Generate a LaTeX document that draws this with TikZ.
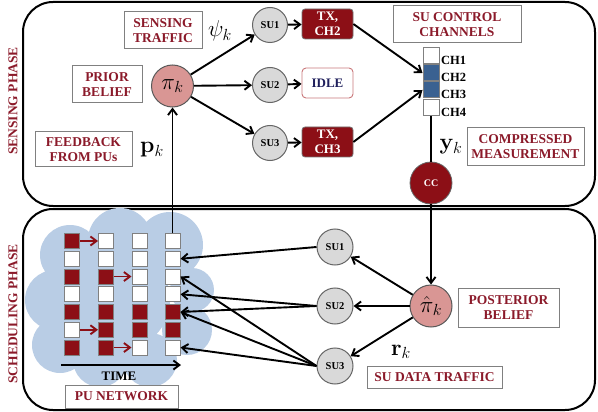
\documentclass[tikz,border=0pt]{standalone}
\usepackage{fix-cm}
\usepackage[no-math]{fontspec}
\setmainfont{Liberation Serif}
\usetikzlibrary{arrows.meta}
\definecolor{dred}{HTML}{8C0F16}
\definecolor{tred}{HTML}{8B1A2A}
\definecolor{rose}{HTML}{D99694}
\definecolor{sugray}{HTML}{D9D9D9}
\definecolor{bgray}{HTML}{808080}
\definecolor{chblue}{HTML}{3A6191}
\definecolor{cloudblue}{HTML}{B9CDE5}
\definecolor{navy}{HTML}{1F1F5C}
\definecolor{idleborder}{HTML}{C9777A}
\begin{document}
\begin{tikzpicture}[x=1pt,y=-1pt,
  lbl/.style={draw=bgray, line width=1pt, fill=white, text=tred,
    font=\fontsize{13.5}{15}\selectfont\bfseries, align=center, inner sep=0pt},
  phase/.style={draw=black, line width=2pt, rounded corners=30pt},
  su/.style={circle, draw=black!60, fill=sugray, line width=1pt,
    minimum size=35pt, inner sep=0pt, font=\fontsize{10.5}{12}\selectfont\bfseries},
  belief/.style={circle, draw=black!65, fill=rose, line width=1pt,
    minimum size=42pt, inner sep=0pt, font=\fontsize{23}{26}\selectfont},
  txbox/.style={draw=black!55, fill=dred, rounded corners=3pt, text=white,
    font=\fontsize{13}{14.5}\selectfont\bfseries, minimum width=51pt,
    minimum height=30pt, align=center, inner sep=0pt, line width=0.8pt},
  idlebox/.style={draw=idleborder, fill=white, rounded corners=4pt, text=navy,
    font=\fontsize{13}{14.5}\selectfont\bfseries, minimum width=51pt,
    minimum height=30pt, inner sep=0pt, line width=0.9pt},
  chan/.style={draw=bgray, line width=1pt, minimum size=16pt, inner sep=0pt, fill=white},
  chlbl/.style={anchor=base west, inner sep=1.5pt, font=\fontsize{12.5}{14}\selectfont\bfseries},
  cell/.style={draw=bgray, line width=1pt, minimum size=15pt, inner sep=0pt},
  arr/.style={-{Straight Barb[length=6pt,width=9pt]}, line width=1.9pt},
  rarr/.style={arr, draw=dred},
  mathlbl/.style={font=\fontsize{23}{26}\selectfont, inner sep=0pt},
  phaselbl/.style={text=tred, font=\fontsize{13.5}{16}\selectfont\bfseries, rotate=90, inner sep=0pt}
]
\useasboundingbox (0,0) rectangle (598,412);

% phase boxes
\draw[phase] (23,2) rectangle (595,206);
\draw[phase] (23,209) rectangle (595,410);
\node[phaselbl] (sp) at (13,101) {SENSING PHASE};
\node[phaselbl] (schp) at (13,314) {SCHEDULING PHASE};

% cloud
\fill[cloudblue]
  (70,255) circle (30) (120,240) circle (32) (170,245) circle (33)
  (192,290) circle (22) (187,330) circle (25) (55,300) circle (30)
  (60,345) circle (28) (100,360) circle (27) (150,360) circle (27)
  (120,300) circle (50);

% grid cells
\foreach \c/\x/\p in {1/72/{1,0,1,0,1,0,1},2/106/{0,0,1,0,1,1,1},3/139.5/{0,0,0,0,1,1,0},4/172.5/{0,0,0,0,1,1,0}}{
  \foreach \v [count=\r] in \p {
    \ifnum\v=1 \def\fc{dred}\else \def\fc{white}\fi
    \node[cell, fill=\fc] (c\c-\r) at (\x,{241+(\r-1)*17.75}) {};
  }
}
\draw[rarr] (c1-1.east) -- (c2-1.west);
\draw[rarr] (c2-3.east) -- (c3-3.west);
\draw[rarr] (c1-6.east) -- (c2-6.west);
\draw[rarr] (c2-7.east) -- (c3-7.west);

\coordinate (t0) at (61,365);
\coordinate (t1) at (181,365);
\draw[arr] (t0) -- (t1);
\node[font=\fontsize{13}{14}\selectfont\bfseries, inner sep=0pt] (time) at (119,376) {TIME};
\node[lbl, minimum width=113pt, minimum height=23pt] (pun) at (121.5,396.5) {PU NETWORK};

% sensing phase
\node[lbl, minimum width=78pt, minimum height=37pt] (st) at (163,30.5) {SENSING\\TRAFFIC};
\node[mathlbl] (psi) at (220,31) {$\psi_k$};
\node[lbl, minimum width=70pt, minimum height=37pt] (pb) at (107,84.5) {PRIOR\\BELIEF};
\node[lbl, minimum width=97pt, minimum height=35pt] (fb) at (83.5,149.5) {FEEDBACK\\FROM PUs};
\node[mathlbl] (pk) at (152,150) {$\mathbf{p}_k$};
\node[belief] (pi) at (172.5,86) {$\pi_k$};

\node[su] (su1t) at (270,25) {SU1};
\node[su] (su2t) at (270,85) {SU2};
\node[su] (su3t) at (270,143) {SU3};

\node[txbox] (tx2) at (327.5,24) {TX,\\CH2};
\node[idlebox] (idle) at (327.5,83) {IDLE};
\node[txbox] (tx3) at (327.5,142) {TX,\\CH3};

\node[lbl, minimum width=128pt, minimum height=37pt] (scc) at (457,24.5) {SU CONTROL\\CHANNELS};
\node[chan] (ch1) at (431,56) {};
\node[chan, fill=chblue] (ch2) at (431,73) {};
\node[chan, fill=chblue] (ch3) at (431,90) {};
\node[chan] (ch4) at (431,108) {};
\node[chlbl] (l1) at (ch1.south east) {CH1};
\node[chlbl] (l2) at (ch2.south east) {CH2};
\node[chlbl] (l3) at (ch3.south east) {CH3};
\node[chlbl] (l4) at (ch4.south east) {CH4};

\node[mathlbl] (yk) at (451,147) {$\mathbf{y}_k$};
\node[lbl, minimum width=117pt, minimum height=38pt] (cm) at (525.5,147) {COMPRESSED\\MEASUREMENT};
\node[circle, draw=black!60, fill=dred, text=white, minimum size=42pt, inner sep=0pt,
  line width=0.8pt, font=\fontsize{10}{12}\selectfont\bfseries] (cc) at (431,183) {CC};

\draw[arr] (c4-1.north) -- (c4-1.north |- pi.south);
\draw[arr] (pi) -- (su1t);
\draw[arr] (pi) -- (su2t);
\draw[arr] (pi) -- (su3t);
\draw[arr] (su1t) -- (tx2);
\draw[arr] (su2t) -- (idle);
\draw[arr] (su3t) -- (tx3);
\draw[arr] (tx2.east) -- (ch2.west);
\draw[arr] (tx3.east) -- (ch3.west);
\draw[line width=1.9pt] (ch4.south) -- (cc.north);

% scheduling phase
\node[belief] (ph) at (431,306) {$\hat{\pi}_k$};
\node[lbl, minimum width=101pt, minimum height=39pt] (postb) at (508.5,307.5) {POSTERIOR\\BELIEF};
\node[su, minimum size=36pt] (su1b) at (335,247) {SU1};
\node[su, minimum size=36pt] (su2b) at (335,306) {SU2};
\node[su, minimum size=36pt] (su3b) at (335,366) {SU3};
\node[mathlbl] (rk) at (401,352) {$\mathbf{r}_k$};
\node[lbl, minimum width=135pt, minimum height=22pt] (sdt) at (434.5,377) {SU DATA TRAFFIC};

\draw[arr] (cc.south) -- (ph.north);
\draw[arr] (ph) -- (su1b);
\draw[arr] (ph) -- (su2b);
\draw[arr] (ph) -- (su3b);

\draw[arr] (su1b.west) -- (c4-2.east);
\draw[arr] (su2b.west) -- (c4-4.east);
\draw[arr] (su2b.west) -- (c4-5.east);
\draw[arr] (su3b.west) -- (c4-3.east);
\draw[arr] (su3b.west) -- (c4-5.east);
\draw[arr] (su3b.west) -- (c4-7.east);
\end{tikzpicture}
\end{document}
